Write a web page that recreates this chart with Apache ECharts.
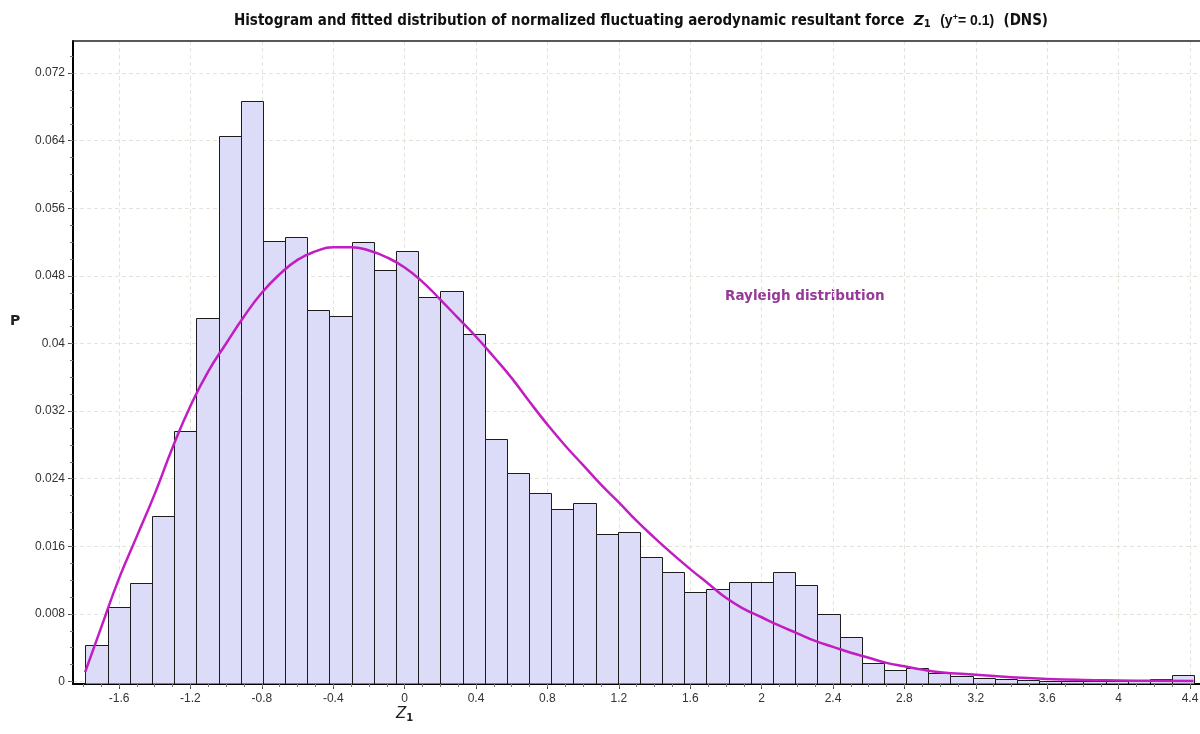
<!DOCTYPE html>
<html><head><meta charset="utf-8">
<script src="https://cdn.jsdelivr.net/npm/echarts@6/dist/echarts.min.js"></script>
<style>html,body{margin:0;padding:0;background:#fff}#c{width:1200px;height:734px}</style>
</head><body><div id="c"></div>
<script>
// ---- Histogram: bins of equal width ----
const binStart = -1.788;
const binWidth = 0.12425;
const frequency = [
  0.0043, 0.0088, 0.0117, 0.0196, 0.0296, 0.0430, 0.0645, 0.0687, 0.0521, 0.0526,
  0.0440, 0.0433, 0.0520, 0.0487, 0.0510, 0.0455, 0.0462, 0.0411, 0.0287, 0.0247,
  0.0223, 0.0204, 0.0211, 0.0175, 0.0177, 0.0147, 0.0130, 0.0106, 0.0109, 0.0118,
  0.0118, 0.0130, 0.0114, 0.0080, 0.0053, 0.0022, 0.0013, 0.0016, 0.0010, 0.0007,
  0.0004, 0.0003, 0.0002, 0.0001, 0.0001, 0.00005, 0.0001, 0.00015, 0.0003, 0.0008
];
// ---- Fitted Rayleigh curve ----
const curveX = [-1.79, -1.7, -1.6, -1.5, -1.4, -1.3, -1.2, -1.1, -1.0, -0.9, -0.8, -0.7, -0.6, -0.5, -0.4, -0.3,
  -0.2, -0.1, 0.0, 0.1, 0.2, 0.3, 0.4, 0.5, 0.6, 0.7, 0.8, 0.9, 1.0, 1.1, 1.2, 1.3, 1.4, 1.5, 1.6, 1.7, 1.8,
  1.9, 2.0, 2.1, 2.2, 2.3, 2.4, 2.5, 2.6, 2.7, 2.8, 2.9, 3.0, 3.2, 3.4, 3.6, 3.8, 4.0, 4.2, 4.42];
const curveP = [0.0011, 0.0064, 0.0122, 0.0172, 0.0222, 0.0277, 0.0326, 0.0367, 0.0400, 0.0432, 0.0460, 0.0482,
  0.0499, 0.0509, 0.0514, 0.0514, 0.0510, 0.0502, 0.0490, 0.0473, 0.0452, 0.0430, 0.0408, 0.0384, 0.0359,
  0.0331, 0.0304, 0.0279, 0.0256, 0.0233, 0.0212, 0.0190, 0.0170, 0.0151, 0.0133, 0.0116, 0.0099, 0.0086,
  0.0076, 0.0066, 0.0057, 0.0048, 0.0041, 0.0034, 0.0028, 0.0022, 0.0018, 0.0014, 0.0011, 0.0008, 0.0005,
  0.0003, 0.00018, 0.00012, 0.00008, 0.00005];
// ---- Tick labels ----
const xTickValues = [-1.6, -1.2, -0.8, -0.4, 0, 0.4, 0.8, 1.2, 1.6, 2, 2.4, 2.8, 3.2, 3.6, 4, 4.4];
const yTickValues = [0, 0.008, 0.016, 0.024, 0.032, 0.04, 0.048, 0.056, 0.064, 0.072];
const xMinorStep = 0.1, yMinorStep = 0.002;

const xMin = -1.858, xMax = 4.456, yMin = -0.0003, yMax = 0.0758;

const xMinor = [];
for (let k = -18; k <= 44; k++) xMinor.push(+(k * xMinorStep).toFixed(1));
const yMinor = [];
for (let k = 0; k <= 37; k++) yMinor.push(+(k * yMinorStep).toFixed(3));

const histData = frequency.map((p, i) => [binStart + i * binWidth, binStart + (i + 1) * binWidth, p]);
const curveData = curveX.map((x, i) => [x, curveP[i]]);

const gridColor = '#e4e4da';
const labelFont = { fontFamily: 'Liberation Sans, Arial, sans-serif', fontSize: 12, color: '#333' };

const chart = echarts.init(document.getElementById('c'), null, { renderer: 'canvas' });
chart.setOption({
  animation: false,
  backgroundColor: '#ffffff',
  title: {
    left: 636, top: 8, textAlign: 'center',
    text: 'Histogram and fitted distribution of normalized fluctuating aerodynamic resultant force  {z|Z}{s|1}  {a|(y}{sup|+}{a|= 0.1)}  (DNS)',
    textStyle: {
      fontFamily: 'Liberation Sans Narrow, DejaVu Sans Condensed, sans-serif', fontWeight: 'bold', fontSize: 15, color: '#111',
      rich: {
        z: { fontFamily: 'DejaVu Sans, sans-serif', fontStyle: 'italic', fontSize: 14, color: '#111', fontWeight: 'bold' },
        s: { fontFamily: 'DejaVu Sans, sans-serif', fontSize: 10, color: '#111', fontWeight: 'bold', verticalAlign: 'bottom', padding: [6, 0, 0, 0] },
        a: { fontFamily: 'Liberation Sans, Arial, sans-serif', fontSize: 14, color: '#111' },
        sup: { fontFamily: 'Liberation Sans, Arial, sans-serif', fontSize: 9, color: '#111', verticalAlign: 'top', padding: [0, 0, 6, 0] }
      }
    }
  },
  grid: { left: 73, right: 0, top: 41, bottom: 50, outerBoundsMode: 'none', containLabel: false },
  xAxis: [
    {
      type: 'value', min: xMin, max: xMax, position: 'bottom',
      axisLine: { show: true, onZero: false, lineStyle: { color: '#000', width: 2 } },
      axisTick: { show: true, customValues: xTickValues, length: 5, lineStyle: { color: '#444', width: 1 } },
      axisLabel: { show: true, customValues: xTickValues, margin: 9, formatter: v => String(+(+v).toFixed(1)), ...labelFont },
      splitLine: { show: true, lineStyle: { color: gridColor, type: [4, 3], width: 1 } }
    },
    {
      type: 'value', min: xMin, max: xMax, position: 'bottom',
      axisLine: { show: false, onZero: false },
      axisTick: { show: true, customValues: xMinor, length: 3, lineStyle: { color: '#777', width: 1 } },
      axisLabel: { show: false },
      splitLine: { show: false }
    },
    {
      type: 'value', min: xMin, max: xMax, position: 'top',
      axisLine: { show: true, onZero: false, lineStyle: { color: '#222', width: 1.5 } },
      axisTick: { show: false }, axisLabel: { show: false }, splitLine: { show: false }
    }
  ],
  yAxis: [
    {
      type: 'value', min: yMin, max: yMax, position: 'left',
      axisLine: { show: true, onZero: false, lineStyle: { color: '#000', width: 2 } },
      axisTick: { show: true, customValues: yTickValues, length: 5, lineStyle: { color: '#444', width: 1 } },
      axisLabel: { show: true, customValues: yTickValues, margin: 8, ...labelFont },
      splitLine: { show: true, lineStyle: { color: gridColor, type: [4, 3], width: 1 } }
    },
    {
      type: 'value', min: yMin, max: yMax, position: 'left',
      axisLine: { show: false, onZero: false },
      axisTick: { show: true, customValues: yMinor, length: 3, lineStyle: { color: '#777', width: 1 } },
      axisLabel: { show: false },
      splitLine: { show: false }
    }
  ],
  graphic: [
    { type: 'text', left: 10, top: 314, style: { text: 'P', fontFamily: 'DejaVu Sans, sans-serif', fontSize: 14, fontWeight: 'bold', fill: '#222' } },
    { type: 'text', left: 725, top: 289, style: { text: 'Rayleigh distribution', fontFamily: 'DejaVu Sans, sans-serif', fontSize: 13.5, fontWeight: 'bold', fill: '#953a97' } },
    { type: 'text', left: 396, top: 707, style: {
        text: '{z|Z}{s|1}',
        rich: {
          z: { fontFamily: 'DejaVu Sans, sans-serif', fontStyle: 'italic', fontSize: 15, fill: '#222' },
          s: { fontFamily: 'DejaVu Sans, sans-serif', fontSize: 10, fontWeight: 'bold', fill: '#222', padding: [7, 0, 0, 0] }
        } } }
  ],
  series: [
    {
      type: 'custom', xAxisIndex: 0, yAxisIndex: 0, clip: true, z: 2,
      encode: { x: [0, 1], y: 2 },
      data: histData,
      renderItem: (params, api) => {
        const a = api.coord([api.value(0), api.value(2)]);
        const b = api.coord([api.value(1), yMin]);
        const x0 = Math.round(a[0]) + 0.5, x1 = Math.round(b[0]) + 0.5, y0 = Math.round(a[1]) + 0.5;
        return { type: 'rect', shape: { x: x0, y: y0, width: x1 - x0, height: b[1] - y0 },
          style: { fill: '#dcdcf8', stroke: '#1c1c1c', lineWidth: 1 } };
      }
    },
    {
      type: 'line', xAxisIndex: 0, yAxisIndex: 0, z: 3,
      data: curveData, smooth: 0.5, showSymbol: false, symbol: 'none',
      lineStyle: { color: '#c11dc1', width: 2.5 }
    }
  ]
});
</script>
</body></html>
